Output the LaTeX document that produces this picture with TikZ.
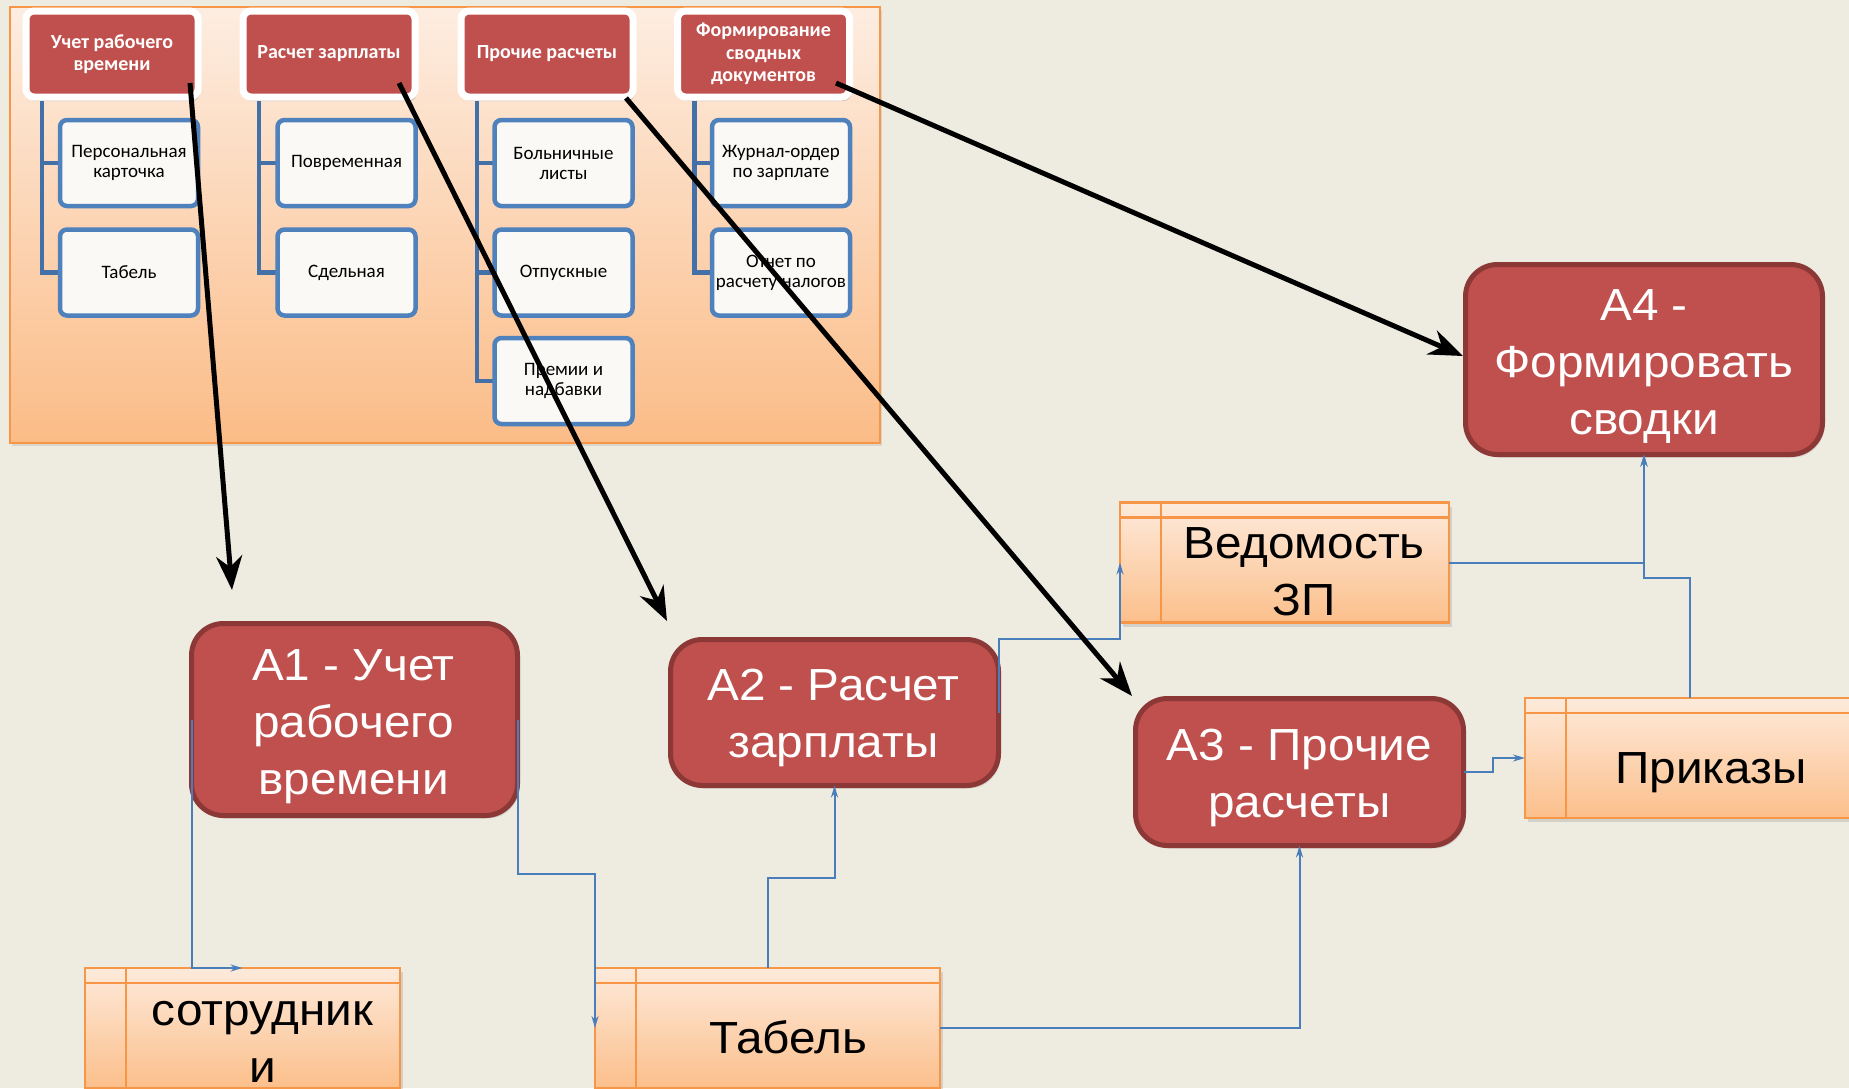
\documentclass[tikz,border=0pt]{standalone}
\usepackage{fontspec}
\setmainfont{Liberation Sans}
\newfontfamily\bigfont[FakeStretch=1.06]{Liberation Sans}
\newfontfamily\calib{Carlito}
\newcommand\mlines[1]{\begin{tabular}[t]{@{}c@{}}#1\end{tabular}}
\usetikzlibrary{arrows.meta,shadows}
\definecolor{bgc}{HTML}{EEECE1}
\definecolor{redf}{HTML}{C0504D}
\definecolor{redd}{HTML}{8C3836}
\definecolor{orb}{HTML}{F79646}
\definecolor{blu}{HTML}{4F81BD}
\definecolor{connc}{HTML}{4A7EBB}
\definecolor{treec}{HTML}{4470A8}
\definecolor{panTop}{HTML}{FDEDE1}
\definecolor{panBot}{HTML}{FBBC87}
\definecolor{stTop}{HTML}{FDEADB}
\definecolor{stBot}{HTML}{FCBF8B}
\definecolor{childf}{HTML}{FBF9F6}
\begin{document}
\begin{tikzpicture}[x=1pt,y=-1pt,
  panelbox/.style={draw=orb,line width=2.5pt,top color=panTop,bottom color=panBot,
    minimum width=870pt,minimum height=436pt,inner sep=0pt,outer sep=0pt,
    drop shadow={opacity=0.2,shadow xshift=2pt,shadow yshift=-3pt}},
  hdr/.style={fill=redf,draw=white,line width=7pt,rounded corners=8pt,
    minimum width=172pt,minimum height=86pt,inner sep=0pt,outer sep=0pt,
    text=white,align=center,font=\calib\bfseries\fontsize{20}{22.5}\selectfont,
    drop shadow={opacity=0.35,shadow xshift=2pt,shadow yshift=-4pt}},
  child/.style={fill=childf,draw=blu,line width=4.5pt,rounded corners=7pt,
    minimum width=138pt,minimum height=86pt,inner sep=0pt,outer sep=0pt,
    align=center,text=black,font=\calib\fontsize{19}{20}\selectfont},
  treeline/.style={draw=treec,line width=4.5pt},
  abox/.style={fill=redf,draw=redd,line width=5pt,rounded corners=32pt,
    inner sep=0pt,outer sep=0pt,
    drop shadow={opacity=0.25,shadow xshift=2pt,shadow yshift=-3pt}},
  atext/.style={text=white,inner sep=0pt,anchor=base,font=\bigfont\fontsize{45}{57}\selectfont},
  store/.style={draw=orb,line width=2.5pt,top color=stTop,bottom color=stBot,
    minimum height=120pt,inner sep=0pt,outer sep=0pt,
    drop shadow={opacity=0.25,shadow xshift=3pt,shadow yshift=-4pt}},
  storetext/.style={text=black,inner sep=0pt,anchor=base,font=\bigfont\fontsize{45}{57}\selectfont},
  storeline/.style={draw=orb,line width=2.5pt},
  conn/.style={draw=connc,line width=2pt,-{Stealth[length=12pt,width=7pt]}},
  bkarrow/.style={draw=black,line width=5pt,-{Stealth[length=34pt,width=26pt]}}
]
\useasboundingbox (0,0) rectangle (1849,1088);
\fill[bgc] (0,0) rectangle (1849,1088);
\clip (0,0) rectangle (1849,1088);

% top panel
\node[panelbox] (panel) at (445,225) {};

% headers
\node[hdr] (h1) at (112,54) {Учет рабочего\\времени};
\node[hdr] (h2) at (329,54) {Расчет зарплаты};
\node[hdr] (h3) at (547,54) {Прочие расчеты};
\node[hdr] (h4) at (763.5,54) {Формирование\\сводных\\документов};

% tree lines
\draw[treeline] ([xshift=16pt,yshift=-3.5pt]h1.south west) |- (129,272.5);
\draw[treeline] ([xshift=16pt]h1.south west |- 0,163) -- (129,163);
\draw[treeline] ([xshift=16pt,yshift=-3.5pt]h2.south west) |- (346.5,272.5);
\draw[treeline] ([xshift=16pt]h2.south west |- 0,163) -- (346.5,163);
\draw[treeline] ([xshift=16pt,yshift=-3.5pt]h3.south west) |- (563.5,381);
\draw[treeline] ([xshift=16pt]h3.south west |- 0,163) -- (563.5,163);
\draw[treeline] ([xshift=16pt]h3.south west |- 0,272.5) -- (563.5,272.5);
\draw[treeline] ([xshift=17pt,yshift=-3.5pt]h4.south west) |- (781,272.5);
\draw[treeline] ([xshift=17pt]h4.south west |- 0,163) -- (781,163);

% children
\node[child] (c1a) at (129,163) {Персональная\\карточка};
\node[child] (c1b) at (129,272.5) {Табель};
\node[child] (c2a) at (346.5,163) {Повременная};
\node[child] (c2b) at (346.5,272.5) {Сдельная};
\node[child] (c3a) at (563.5,163) {Больничные\\листы};
\node[child] (c3b) at (563.5,272.5) {Отпускные};
\node[child] (c3c) at (563.5,381) {Премии и\\надбавки};
\node[child] (c4a) at (781,163) {Журнал-ордер\\по зарплате};
\node[child] (c4b) at (781,272.5) {Отчет по\\расчету налогов};

% process boxes
\node[abox,minimum width=326pt,minimum height=192pt] (A1) at (354.5,719.5) {};
\node[abox,minimum width=328pt,minimum height=146pt] (A2) at (834.5,712.5) {};
\node[abox,minimum width=328pt,minimum height=147pt] (A3) at (1299.5,772) {};
\node[abox,minimum width=357pt,minimum height=190pt] (A4) at (1644,359.5) {};
\node[atext] (A1t) at (353.5,680) {\mlines{A1 - Учет\\рабочего\\времени}};
\node[atext] (A2t) at (833.5,700) {\mlines{A2 - Расчет\\зарплаты}};
\node[atext] (A3t) at (1299.5,760.5) {\mlines{A3 - Прочие\\расчеты}};
\node[atext] (A4t) at (1644,320) {\mlines{A4 -\\Формировать\\сводки}};

% data stores
\node[store,minimum width=315pt] (sotr) at (242.5,1028) {};
\node[store,minimum width=345pt] (tab) at (767.5,1028) {};
\node[store,minimum width=329pt] (ved) at (1284.5,562.5) {};
\node[store,minimum width=330pt] (pri) at (1690,758) {};
\foreach \s in {sotr,tab,ved,pri}{
  \draw[storeline] ([yshift=-15pt]\s.north west) -- ([yshift=-15pt]\s.north east);
  \draw[storeline] ([xshift=41pt]\s.north west) -- ([xshift=41pt]\s.south west);
}
\node[storetext] (sotrt) at (262.5,1025) {\mlines{сотрудник\\и}};
\node[storetext] (tabt) at (788,1053) {Табель};
\node[storetext] (vedt) at (1304,558) {\mlines{Ведомость\\ЗП}};
\node[storetext] (prit) at (1711,783) {Приказы};

% blue connectors
\draw[conn] (A1.west) |- (sotr.north);
\draw[conn] (A1.east) -- ++(0,154) -| (tab.west);
\draw[conn] (tab.north) -- ++(0,-90) -| (A2.south);
\draw[conn] (A2.east) -- ++(0,-74) -| (ved.west);
\draw[conn] (tab.east) -| (A3.south);
\draw[conn] (A3.east) -- ++(29,0) |- (pri.west);
\draw[conn] (ved.east) -| (A4.south);
\draw[conn] (pri.north) -- ++(0,-120) -| (A4.south);

% black arrows
\coordinate (s1) at (190,83);
\coordinate (e1) at (232,590);
\coordinate (s2) at (399,83);
\coordinate (e2) at (667,621);
\coordinate (s3) at (626,98);
\coordinate (e3) at (1132,696);
\coordinate (s4) at (836,83);
\coordinate (e4) at (1463,356);
\draw[bkarrow] (s1) -- (e1);
\draw[bkarrow] (s2) -- (e2);
\draw[bkarrow] (s3) -- (e3);
\draw[bkarrow] (s4) -- (e4);
\end{tikzpicture}
\end{document}
